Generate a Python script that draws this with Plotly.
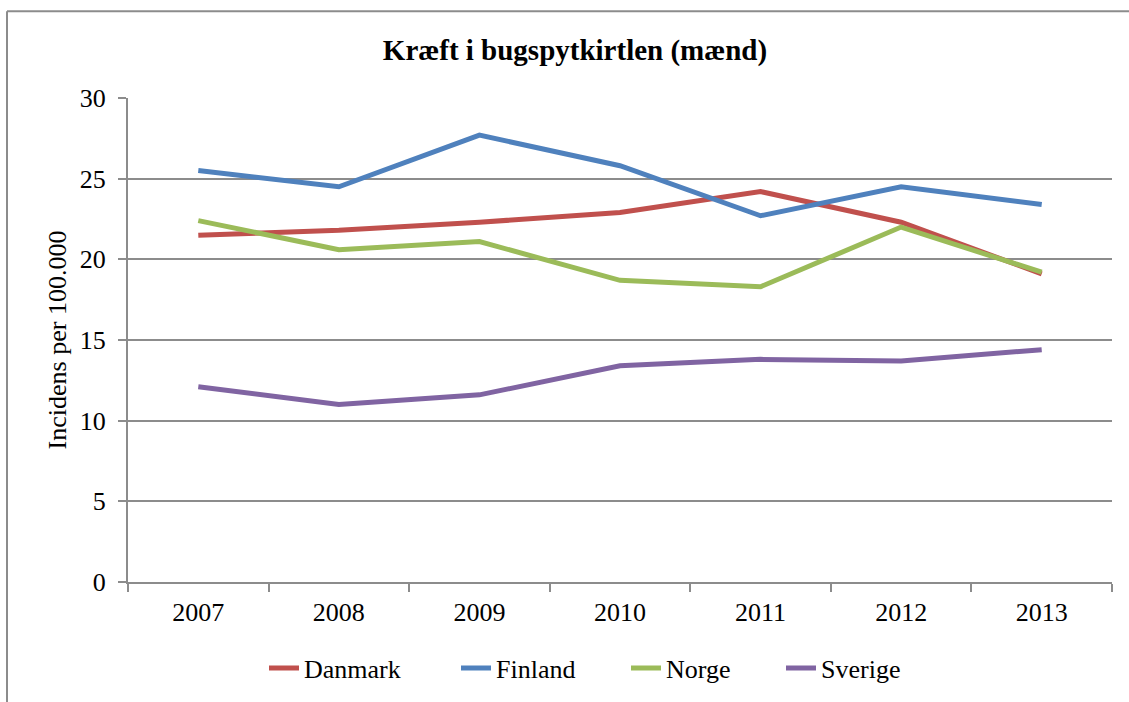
import plotly.graph_objects as go

years = ["2007", "2008", "2009", "2010", "2011", "2012", "2013"]
danmark = [21.5, 21.8, 22.3, 22.9, 24.2, 22.3, 19.1]
finland = [25.5, 24.5, 27.7, 25.8, 22.7, 24.5, 23.4]
norge = [22.4, 20.6, 21.1, 18.7, 18.3, 22.0, 19.2]
sverige = [12.1, 11.0, 11.6, 13.4, 13.8, 13.7, 14.4]

series = [
    ("Danmark", danmark, "#C0504D"),
    ("Finland", finland, "#4F81BD"),
    ("Norge", norge, "#9BBB59"),
    ("Sverige", sverige, "#8064A2"),
]

font = "Liberation Serif, Times New Roman, serif"
grey = "#8c8c8c"

# plot area in pixels: x 128-1112, y 98-583
W, H = 1129, 702
L, R, T, B = 128, 17, 98, 119
pw, ph = W - L - R, H - T - B

def px(x):
    return (x - L) / pw

def py(y):
    return (H - B - y) / ph

# each series gets its own legend box so the spacing follows the original
legend_left = [258, 450, 620, 775]
legend_offset = -6

fig = go.Figure()
layout_legends = {}
for i, (name, vals, color) in enumerate(series):
    key = "legend" if i == 0 else "legend%d" % (i + 1)
    fig.add_trace(go.Scatter(x=years, y=vals, mode="lines", name=name, legend=key,
                             line=dict(color=color, width=5)))
    layout_legends[key] = dict(orientation="h", x=px(legend_left[i] - legend_offset),
                               xanchor="left", y=py(668), yanchor="middle",
                               font=dict(size=26, family=font), bgcolor="rgba(0,0,0,0)")

fig.update_layout(
    width=W, height=H,
    margin=dict(l=L, r=R, t=T, b=B),
    paper_bgcolor="white", plot_bgcolor="white",
    font=dict(family=font, size=26, color="black"),
    title=dict(text="<b>Kræft i bugspytkirtlen (mænd)</b>", x=px(575), xref="paper",
               xanchor="center", y=1 - 50 / H, yanchor="middle",
               font=dict(size=29, family=font)),
    showlegend=True,
    **layout_legends,
)

fig.update_xaxes(type="category", range=[-0.5, 6.5], tickson="boundaries", ticks="outside",
                 ticklen=8, tickcolor=grey, tickwidth=2, showline=True, linecolor=grey,
                 linewidth=2, showgrid=False, ticklabelstandoff=6,
                 tickfont=dict(size=26, family=font))
fig.update_yaxes(range=[0, 30], dtick=5, ticks="outside", ticklen=8, tickcolor=grey,
                 tickwidth=2, showline=True, linecolor=grey, linewidth=2,
                 showgrid=True, gridcolor=grey, gridwidth=2, zeroline=False,
                 ticklabelstandoff=7, tickfont=dict(size=26, family=font),
                 title=dict(text="Incidens per 100.000", standoff=6,
                            font=dict(size=26, family=font)))

# outer chart frame (cropped on right and bottom)
fig.add_shape(type="line", xref="paper", yref="paper", x0=px(7), x1=px(W + 5),
              y0=py(11), y1=py(11), line=dict(color=grey, width=2))
fig.add_shape(type="line", xref="paper", yref="paper", x0=px(7), x1=px(7),
              y0=py(11), y1=py(H + 5), line=dict(color=grey, width=2))

fig.write_html("out.html", config={"displayModeBar": False},
               post_script="document.body.style.margin='0';document.body.style.overflow='hidden';")
